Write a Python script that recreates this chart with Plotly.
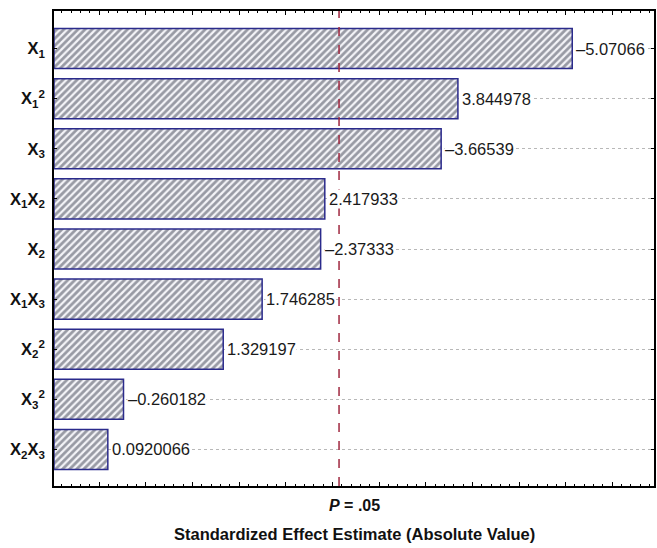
import plotly.graph_objects as go

# Pareto chart of standardized effects
terms = ["X<sub>1</sub>", "X<sub>1</sub><sup>2</sup>", "X<sub>3</sub>",
         "X<sub>1</sub>X<sub>2</sub>", "X<sub>2</sub>", "X<sub>1</sub>X<sub>3</sub>",
         "X<sub>2</sub><sup>2</sup>", "X<sub>3</sub><sup>2</sup>", "X<sub>2</sub>X<sub>3</sub>"]
effects = [-5.07066, 3.844978, -3.66539, 2.417933, -2.37333, 1.746285,
           1.329197, -0.260182, 0.0920066]
t_crit = 2.5706  # critical value at p = .05
x_min, x_max = -0.485, 5.947

abs_eff = [abs(v) for v in effects]
pos = list(range(len(terms)))

fig = go.Figure()
fig.add_trace(go.Bar(
    y=pos,
    x=[a - x_min for a in abs_eff],
    base=x_min,
    orientation="h",
    width=0.8,
    marker=dict(
        color="#f4f4f8",
        line=dict(color="#2b2b8c", width=1.5),
        pattern=dict(shape="/", fgcolor="#3c4050", bgcolor="#f4f4f8",
                     size=5, solidity=0.55),
    ),
    hoverinfo="skip",
))
# invisible trace so the top axis gets drawn with its own ticks
fig.add_trace(go.Scatter(x=[x_min, x_max], y=[0, 0], xaxis="x2", mode="none",
                         hoverinfo="skip", showlegend=False))

# value labels beside each bar
for i, v in enumerate(effects):
    fig.add_annotation(
        x=abs(v), y=i, xref="x", yref="y",
        text=repr(v).replace("-", "\u2013"),
        showarrow=False, xanchor="left", xshift=3,
        bgcolor="white", borderpad=0,
        font=dict(family="Liberation Sans, Arial", size=16.5, color="#1a1a1a"),
    )

# p = .05 reference line
fig.add_shape(type="line", xref="x", yref="paper", x0=t_crit, x1=t_crit,
              y0=0, y1=1, line=dict(color="#a02840", width=1.5, dash="dash"),
              layer="above")
fig.add_annotation(x=t_crit, y=-0.042, xref="x", yref="paper",
                   text="<b><i>P</i> = .05</b>", showarrow=False,
                   xanchor="left", xshift=-12, yanchor="middle",
                   font=dict(family="Liberation Sans, Arial", size=16, color="#111"))
fig.add_annotation(x=0.5, y=-0.101, xref="paper", yref="paper",
                   text="<b>Standardized Effect Estimate (Absolute Value)</b>",
                   showarrow=False, xanchor="center", yanchor="middle",
                   font=dict(family="Liberation Sans, Arial", size=16.5, color="#111"))

tick_style = dict(
    range=[x_min, x_max], showgrid=False, zeroline=False,
    showline=True, linecolor="black", linewidth=1.5,
    ticks="inside", tick0=0, dtick=0.5, ticklen=4, tickcolor="black",
    showticklabels=False,
    minor=dict(ticks="inside", dtick=0.1, tick0=0, ticklen=2, tickcolor="black"),
)

fig.update_layout(
    width=657, height=548,
    margin=dict(l=54, r=1, t=11, b=62),
    paper_bgcolor="white", plot_bgcolor="white",
    showlegend=False,
    bargap=0.2,
    xaxis=dict(**tick_style),
    xaxis2=dict(**tick_style, overlaying="x", side="top", anchor="y"),
    yaxis=dict(
        range=[8.73, -0.75], tickvals=pos,
        ticktext=["<b>" + t + "</b>" for t in terms],
        showgrid=True, gridcolor="#b8b8b8", griddash="dot", gridwidth=1,
        zeroline=False, showline=True, linecolor="black", linewidth=1.5,
        mirror="ticks", ticks="inside", ticklen=3, tickcolor="black",
        tickfont=dict(family="Liberation Sans, Arial", size=16.5, color="#111"),
        ticklabelstandoff=4,
    ),
)

fig.write_html("out.html")
